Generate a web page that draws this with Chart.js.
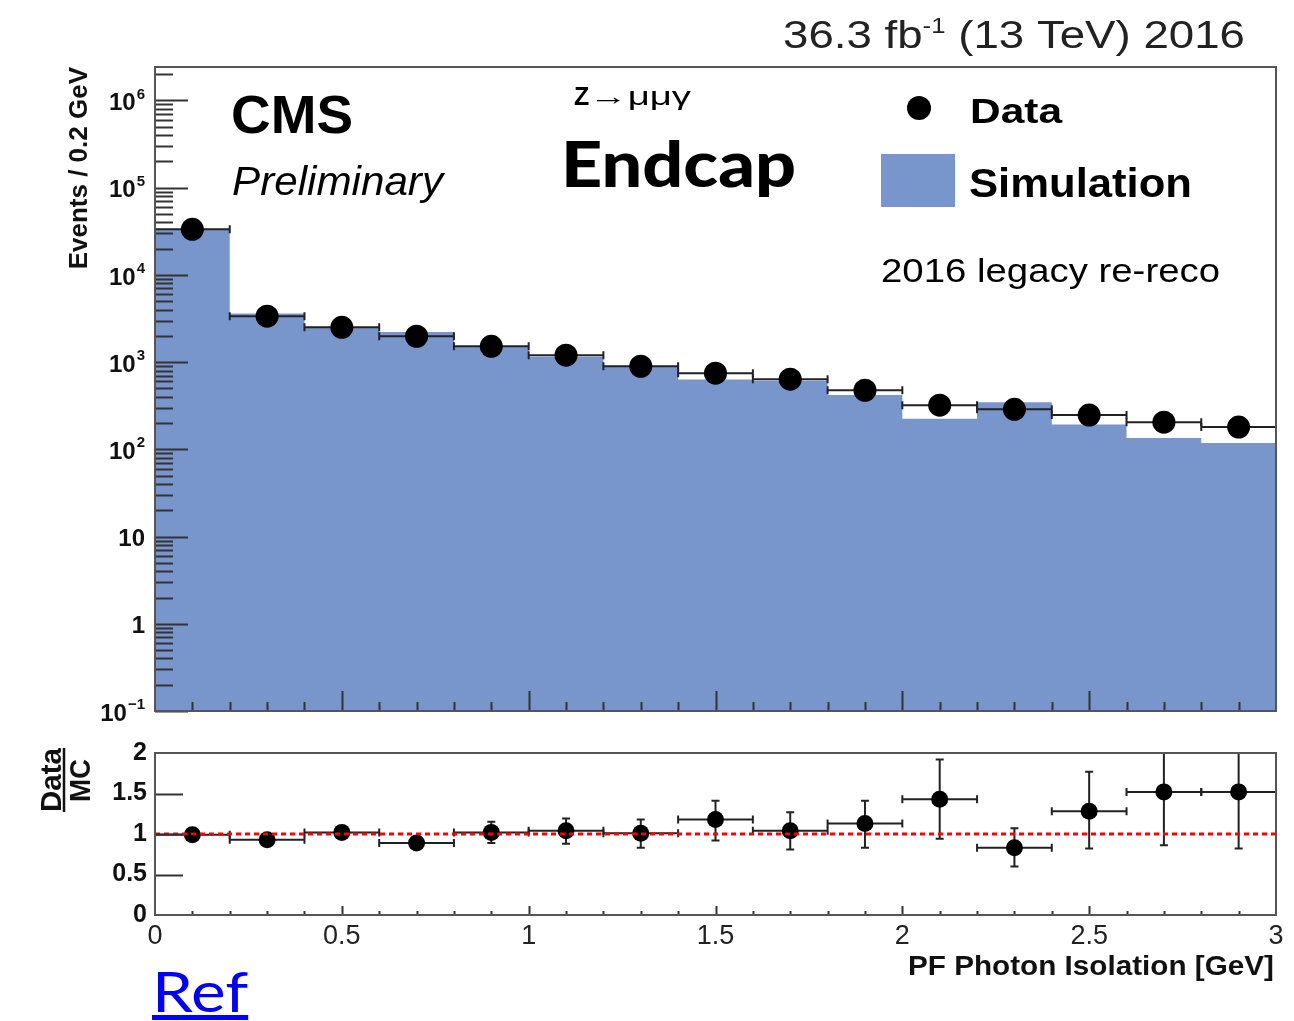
<!DOCTYPE html>
<html>
<head>
<meta charset="utf-8">
<script src="https://cdn.jsdelivr.net/npm/chart.js@4.4.1/dist/chart.umd.min.js"></script>
<style>
  html, body { margin: 0; padding: 0; background: #fff; overflow: hidden; }
  #wrap { position: relative; width: 1294px; height: 1021px; }
  #main { position: absolute; left: 0; top: 0; }
  #ratio { position: absolute; left: 0; top: 730px; }
  #ref { position: absolute; left: 152px; top: 962px; font: 57px Lato, sans-serif; color: #0000ff; text-decoration: underline; line-height: 57px; display: inline-block; transform: scaleX(1.15); transform-origin: left top; }
</style>
</head>
<body>
<div id="wrap">
  <canvas id="main" width="1294" height="730"></canvas>
  <canvas id="ratio" width="1294" height="291"></canvas>
  <a id="ref" href="#">Ref</a>
</div>
<script>
/* Data */
const binLow = [0.0, 0.2, 0.4, 0.6, 0.8, 1.0, 1.2, 1.4, 1.6, 1.8, 2.0, 2.2, 2.4, 2.6, 2.8];
const binHigh = 3.0;
const binCenters = [0.1, 0.3, 0.5, 0.7, 0.9, 1.1, 1.3, 1.5, 1.7, 1.9, 2.1, 2.3, 2.5, 2.7, 2.9];
const binHalfWidth = 0.1;
const dataCounts = [33300, 3360, 2510, 1980, 1520, 1200, 897, 747, 637, 476, 321, 288, 247, 205, 180];
const dataErr = [182, 58, 50, 44, 39, 35, 30, 27, 25, 22, 18, 17, 16, 14, 13];
const simCounts = [33600, 3610, 2460, 2220, 1490, 1150, 888, 633, 612, 421, 224, 347, 193, 135, 118];
const ratioVals = [0.99, 0.93, 1.02, 0.89, 1.02, 1.04, 1.01, 1.18, 1.04, 1.13, 1.43, 0.83, 1.28, 1.52, 1.52];
const ratioErrUp = [0.02, 0.03, 0.08, 0.05, 0.13, 0.15, 0.17, 0.23, 0.23, 0.28, 0.49, 0.24, 0.49, 0.66, 0.70];
const ratioErrDown = [0.02, 0.03, 0.08, 0.05, 0.13, 0.16, 0.18, 0.26, 0.23, 0.30, 0.49, 0.23, 0.46, 0.66, 0.70];

/* Tick labels */
const yTickExp = [-1, 0, 1, 2, 3, 4, 5, 6];
const yTickLabels = [['10', '\u22121'], ['1', ''], ['10', ''], ['10', '2'], ['10', '3'], ['10', '4'], ['10', '5'], ['10', '6']];
const ratioLabel = ['Data', 'MC'];
const xTitle = 'PF Photon Isolation [GeV]';
const yTitle = 'Events / 0.2 GeV';

const HELV = '"Liberation Sans", Arial, Helvetica, sans-serif';
const SIM_COLOR = '#7896cb';
const YMAX = 2.42e6;

/* Utilities */
function fitText(ctx, text, x, y, width, font){
    ctx.font = font;
    const w = ctx.measureText(text).width;
    ctx.save();
    ctx.translate(x, y);
    ctx.scale(width / w, 1);
    ctx.fillText(text, 0, 0);
    ctx.restore();
}

function errorBar(ctx, x0, x1, xc, y0, y1, yc, cap){
    ctx.beginPath();
    ctx.moveTo(x0, yc); ctx.lineTo(x1, yc);
    ctx.moveTo(x0, yc - cap); ctx.lineTo(x0, yc + cap);
    ctx.moveTo(x1, yc - cap); ctx.lineTo(x1, yc + cap);
    ctx.moveTo(xc, y0); ctx.lineTo(xc, y1);
    ctx.moveTo(xc - cap, y0); ctx.lineTo(xc + cap, y0);
    ctx.moveTo(xc - cap, y1); ctx.lineTo(xc + cap, y1);
    ctx.stroke();
}

/* Main panel plugin */
const mainDecor = {
    id: 'mainDecor',
    afterDatasetDraw(chart, args){
        if(args.index !== 1) return;
        const ctx = chart.ctx, xs = chart.scales.x, ys = chart.scales.y;
        ctx.save();
        ctx.strokeStyle = '#222';
        ctx.lineWidth = 2;
        for(let i=0; i<binCenters.length; i++){
            errorBar(ctx,
                xs.getPixelForValue(binCenters[i] - binHalfWidth),
                xs.getPixelForValue(binCenters[i] + binHalfWidth),
                xs.getPixelForValue(binCenters[i]),
                ys.getPixelForValue(dataCounts[i] + dataErr[i]),
                ys.getPixelForValue(dataCounts[i] - dataErr[i]),
                ys.getPixelForValue(dataCounts[i]), 4);
        }
        ctx.restore();
    },
    afterDraw(chart){
        const ctx = chart.ctx, a = chart.chartArea, xs = chart.scales.x, ys = chart.scales.y;
        ctx.save();
        // y ticks (inward)
        ctx.strokeStyle = '#333';
        ctx.lineWidth = 2;
        ctx.beginPath();
        for(let e=-1; e<=6; e++){
            for(let m=1; m<=9; m++){
                const v = m * Math.pow(10, e);
                if(v > YMAX) continue;
                const py = Math.round(ys.getPixelForValue(v)) + 0.5;
                const len = m === 1 ? 33 : 18;
                ctx.moveTo(a.left, py); ctx.lineTo(a.left + len, py);
            }
        }
        // x ticks
        for(let i=1; i<30; i++){
            const px = Math.round(xs.getPixelForValue(i / 10)) + 0.5;
            const len = i % 5 === 0 ? 20 : 9;
            ctx.moveTo(px, a.bottom); ctx.lineTo(px, a.bottom - len);
        }
        ctx.stroke();
        // frame
        ctx.strokeStyle = '#555';
        ctx.lineWidth = 2;
        ctx.strokeRect(a.left, a.top, a.right - a.left, a.bottom - a.top);

        // y tick labels
        ctx.fillStyle = '#111';
        ctx.textBaseline = 'middle';
        for(let i=0; i<yTickExp.length; i++){
            const py = ys.getPixelForValue(Math.pow(10, yTickExp[i]));
            const base = yTickLabels[i][0], sup = yTickLabels[i][1];
            ctx.font = 'bold 15px ' + HELV;
            const sw = sup ? ctx.measureText(sup).width + 1 : 0;
            const right = 145;
            if(sup){
                ctx.textAlign = 'right';
                ctx.fillText(sup, right, py - 6);
            }
            ctx.font = 'bold 24px ' + HELV;
            ctx.textAlign = 'right';
            ctx.fillText(base, right - sw, py + 3);
        }

        // y title
        ctx.save();
        ctx.translate(87, 67);
        ctx.rotate(-Math.PI / 2);
        ctx.textAlign = 'right';
        ctx.textBaseline = 'alphabetic';
        ctx.font = 'bold 26px ' + HELV;
        ctx.fillStyle = '#111';
        ctx.fillText(yTitle, 0, 0);
        ctx.restore();

        ctx.textAlign = 'left';
        ctx.textBaseline = 'alphabetic';
        ctx.fillStyle = '#000';
        // CMS / Preliminary
        fitText(ctx, 'CMS', 231, 133, 122, 'bold 54px ' + HELV);
        fitText(ctx, 'Preliminary', 232, 195, 211, 'italic 40px ' + HELV);
        // Z -> mu mu gamma
        ctx.font = 'bold 25px ' + HELV;
        const zw = ctx.measureText('Z').width;
        ctx.fillText('Z', 574, 105);
        fitText(ctx, '\u2192\u03bc\u03bc\u03b3', 574 + zw, 105, 117 - zw, '25px ' + HELV);
        // Endcap
        fitText(ctx, 'Endcap', 561, 187, 235, '900 62px Lato, ' + HELV);
        // Legend
        ctx.beginPath();
        ctx.arc(919, 108, 12, 0, Math.PI * 2);
        ctx.fill();
        fitText(ctx, 'Data', 970, 123, 92, 'bold 35px ' + HELV);
        ctx.fillStyle = SIM_COLOR;
        ctx.fillRect(881, 154, 74, 53);
        ctx.fillStyle = '#000';
        fitText(ctx, 'Simulation', 969, 197, 223, 'bold 40px ' + HELV);
        fitText(ctx, '2016 legacy re-reco', 881, 282, 339, '33px ' + HELV);

        // lumi label
        ctx.fillStyle = '#222';
        const p1 = '36.3 fb', p2 = '-1', p3 = ' (13 TeV) 2016';
        ctx.font = '39px ' + HELV;
        const w1 = ctx.measureText(p1).width, w3 = ctx.measureText(p3).width;
        ctx.font = '22px ' + HELV;
        const w2 = ctx.measureText(p2).width;
        const k = 462 / (w1 + w2 + w3);
        ctx.save();
        ctx.translate(783, 48);
        ctx.scale(k, 1);
        ctx.font = '39px ' + HELV;
        ctx.fillText(p1, 0, 0);
        ctx.font = '22px ' + HELV;
        ctx.fillText(p2, w1, -15);
        ctx.font = '39px ' + HELV;
        ctx.fillText(p3, w1 + w2, 0);
        ctx.restore();
        ctx.restore();
    }
};

/* Ratio panel plugin */
const ratioDecor = {
    id: 'ratioDecor',
    beforeDatasetsDraw(chart){
        const ctx = chart.ctx, a = chart.chartArea, xs = chart.scales.x, ys = chart.scales.y;
        ctx.save();
        ctx.beginPath();
        ctx.rect(a.left, a.top, a.right - a.left, a.bottom - a.top);
        ctx.clip();
        ctx.strokeStyle = '#222';
        ctx.lineWidth = 2;
        for(let i=0; i<binCenters.length; i++){
            errorBar(ctx,
                xs.getPixelForValue(binCenters[i] - binHalfWidth),
                xs.getPixelForValue(binCenters[i] + binHalfWidth),
                xs.getPixelForValue(binCenters[i]),
                ys.getPixelForValue(ratioVals[i] + ratioErrUp[i]),
                ys.getPixelForValue(ratioVals[i] - ratioErrDown[i]),
                ys.getPixelForValue(ratioVals[i]), 4);
        }
        ctx.restore();
    },
    afterDatasetsDraw(chart){
        const ctx = chart.ctx, a = chart.chartArea, ys = chart.scales.y;
        ctx.save();
        ctx.strokeStyle = '#ff0000';
        ctx.lineWidth = 3;
        ctx.setLineDash([5, 4]);
        const py = ys.getPixelForValue(1);
        ctx.beginPath();
        ctx.moveTo(a.left, py); ctx.lineTo(a.right, py);
        ctx.stroke();
        ctx.restore();
    },
    afterDraw(chart){
        const ctx = chart.ctx, a = chart.chartArea, xs = chart.scales.x, ys = chart.scales.y;
        ctx.save();
        ctx.strokeStyle = '#333';
        ctx.lineWidth = 2;
        ctx.beginPath();
        for(let v=0.5; v<2; v+=0.5){
            const py = Math.round(ys.getPixelForValue(v)) + 0.5;
            ctx.moveTo(a.left, py); ctx.lineTo(a.left + 28, py);
        }
        for(let i=1; i<30; i++){
            const px = Math.round(xs.getPixelForValue(i / 10)) + 0.5;
            const len = i % 5 === 0 ? 9 : 4;
            ctx.moveTo(px, a.bottom); ctx.lineTo(px, a.bottom - len);
        }
        ctx.stroke();
        ctx.strokeStyle = '#555';
        ctx.strokeRect(a.left, a.top, a.right - a.left, a.bottom - a.top);

        // Data / MC
        ctx.fillStyle = '#111';
        ctx.save();
        ctx.translate(61, 50);
        ctx.rotate(-Math.PI / 2);
        ctx.textAlign = 'left';
        ctx.textBaseline = 'alphabetic';
        fitText(ctx, ratioLabel[0], -32, 0, 64, 'bold 30px ' + HELV);
        ctx.restore();
        ctx.save();
        ctx.translate(90, 51);
        ctx.rotate(-Math.PI / 2);
        fitText(ctx, ratioLabel[1], -21, 0, 43, 'bold 30px ' + HELV);
        ctx.restore();
        ctx.lineWidth = 2.5;
        ctx.strokeStyle = '#111';
        ctx.beginPath();
        ctx.moveTo(64, 18); ctx.lineTo(64, 82);
        ctx.stroke();

        // x title
        fitText(ctx, xTitle, 1274 - 366, 245, 366, 'bold 28px ' + HELV);
        ctx.restore();
    }
};

/* Charts */
const simSteps = binLow.map((x, i) => ({x: x, y: simCounts[i]}));
simSteps.push({x: binHigh, y: simCounts[simCounts.length - 1]});
const dataPoints = binCenters.map((x, i) => ({x: x, y: dataCounts[i]}));
const ratioPoints = binCenters.map((x, i) => ({x: x, y: ratioVals[i]}));

new Chart(document.getElementById('main'), {
    type: 'line',
    data: {
        datasets: [
            {label: 'Data', data: dataPoints, showLine: false, pointRadius: 11.5,
             pointBackgroundColor: '#000', pointBorderWidth: 0, borderWidth: 0},
            {label: 'Simulation', data: simSteps, stepped: true, fill: 'start',
             backgroundColor: SIM_COLOR, borderColor: SIM_COLOR, borderWidth: 0, pointRadius: 0}
        ]
    },
    options: {
        responsive: false,
        devicePixelRatio: 1,
        animation: false,
        layout: {autoPadding: false, padding: {left: 155, top: 67, right: 18, bottom: 19}},
        plugins: {legend: {display: false}, tooltip: {enabled: false}},
        scales: {
            x: {type: 'linear', min: 0, max: 3, display: false},
            y: {type: 'logarithmic', min: 0.1, max: YMAX, display: false}
        }
    },
    plugins: [mainDecor]
});

new Chart(document.getElementById('ratio'), {
    type: 'line',
    data: {
        datasets: [
            {label: 'Data/MC', data: ratioPoints, showLine: false, pointRadius: 8.5,
             pointBackgroundColor: '#000', pointBorderWidth: 0, borderWidth: 0}
        ]
    },
    options: {
        responsive: false,
        devicePixelRatio: 1,
        animation: false,
        layout: {autoPadding: false, padding: {left: 0, top: 19, right: 18, bottom: 66}},
        plugins: {legend: {display: false}, tooltip: {enabled: false}},
        scales: {
            x: {
                type: 'linear', min: 0, max: 3, position: 'bottom',
                grid: {display: false, drawTicks: false}, border: {display: false},
                ticks: {stepSize: 0.5, autoSkip: false, maxRotation: 0, padding: 5, color: '#222',
                        font: {family: HELV, size: 27},
                        callback: function(v){ return String(v); }},
                afterFit: function(s){ s.height = 40; }
            },
            y: {
                min: 0, max: 2,
                grid: {display: false, drawTicks: false}, border: {display: false},
                ticks: {stepSize: 0.5, padding: 8, color: '#111',
                        font: {family: HELV, size: 25, weight: 'bold'},
                        callback: function(v){ return String(v); }},
                afterFit: function(s){ s.width = 155; }
            }
        }
    },
    plugins: [ratioDecor]
});
</script>
</body>
</html>
